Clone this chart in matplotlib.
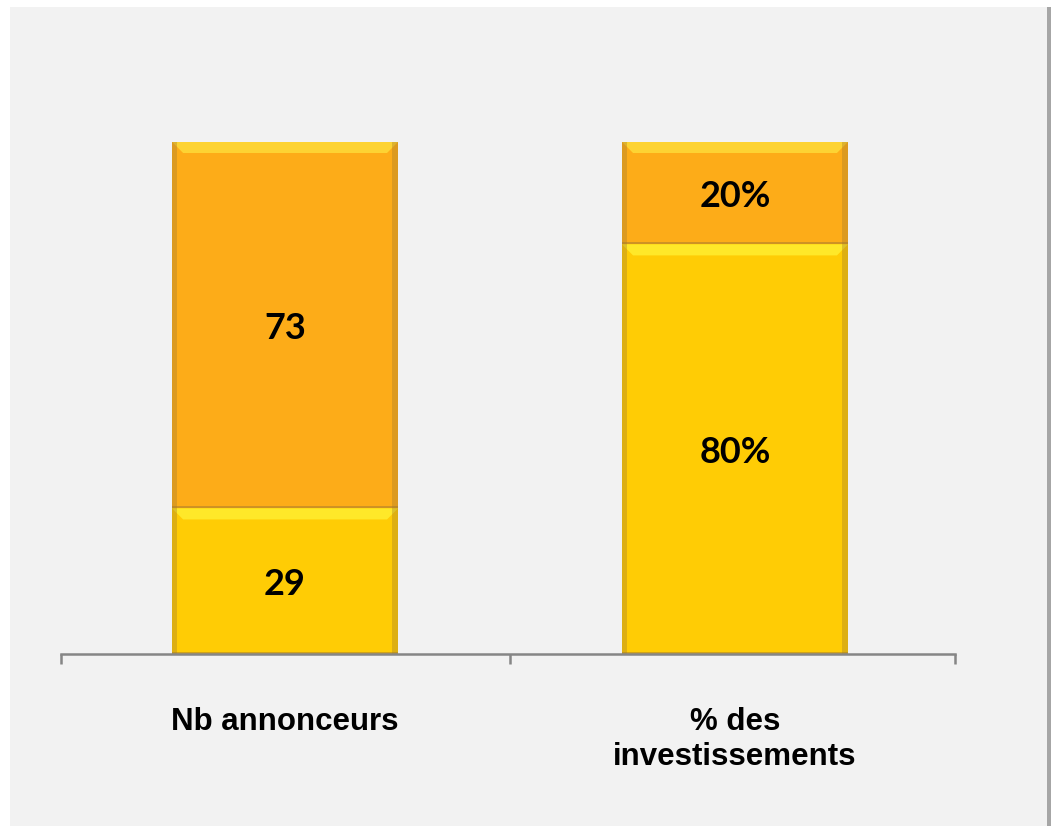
import matplotlib
matplotlib.use("Agg")
import matplotlib.pyplot as plt
from matplotlib.patches import Rectangle, Polygon
import numpy as np

categories = ["Nb annonceurs", "% des\ninvestissements"]
bottom_values = [29, 80]   # yellow series
top_values = [73, 20]      # orange series
bottom_labels = ["29", "80%"]
top_labels = ["73", "20%"]

YELLOW = "#ffcc05"
ORANGE = "#fdac18"
YELLOW_HI = "#fff033"
ORANGE_HI = "#fedd3a"

fig = plt.figure(figsize=(10.53, 8.26), dpi=100)
fig.patch.set_facecolor("white")
# panel background with shadow
fig.patches.append(Rectangle((1047/1053, 0), 4/1053, 819/826, transform=fig.transFigure,
                             facecolor="#a6a6a6", edgecolor="none", zorder=-10))
fig.patches.append(Rectangle((10/1053, 0), 1037/1053, 819/826, transform=fig.transFigure,
                             facecolor="#f2f2f2", edgecolor="none", zorder=-10))

ax = fig.add_axes([61/1053, (826-654)/826, (955-61)/1053, (654-142)/826])
ax.set_facecolor("none")
ax.set_zorder(5)

x = np.arange(len(categories))
tot = np.array(bottom_values, float) + np.array(top_values, float)
b = np.array(bottom_values) / tot
t = np.array(top_values) / tot
width = 0.502

bars_b = ax.bar(x, b, width, color=YELLOW, edgecolor="none", zorder=2)
bars_t = ax.bar(x, t, width, bottom=b, color=ORANGE, edgecolor="none", zorder=2)

xl = (-0.498, 1.489)
ax.set_xlim(*xl)
ax.set_ylim(0, 1)

# bevel effects derived from the bar patches
px_x = (xl[1] - xl[0]) / (955 - 61)   # data units per pixel in x
px_y = 1.0 / (654 - 142)              # data units per pixel in y
for bars, hi in ((bars_b, YELLOW_HI), (bars_t, ORANGE_HI)):
    for p in bars.patches:
        x0, y0, w, h = p.get_x(), p.get_y(), p.get_width(), p.get_height()
        x1, y1 = x0 + w, y0 + h
        d = 11
        poly = Polygon([(x0, y1), (x1, y1), (x1 - d*px_x, y1 - d*px_y), (x0 + d*px_x, y1 - d*px_y)],
                       closed=True, facecolor=hi, edgecolor="none", alpha=0.8, zorder=3)
        ax.add_patch(poly)
        # side shading
        ax.add_patch(Rectangle((x0, y0), 5*px_x, h, facecolor="#a07a30", alpha=0.35,
                               edgecolor="none", zorder=3))
        ax.add_patch(Rectangle((x1 - 6*px_x, y0), 6*px_x, h, facecolor="#a07a30", alpha=0.35,
                               edgecolor="none", zorder=3))
        # bottom darker line
        ax.add_patch(Rectangle((x0, y0), w, 2*px_y, facecolor="#a07a30", alpha=0.5,
                               edgecolor="none", zorder=3))

for bars, labels in ((bars_b, bottom_labels), (bars_t, top_labels)):
    for p, lab in zip(bars.patches, labels):
        ax.annotate(lab, xy=(p.get_x() + p.get_width()/2, p.get_y() + p.get_height()/2),
                    xytext=(0, -14), textcoords="offset pixels",
                    ha="center", va="baseline", fontsize=26, fontweight="bold",
                    family=["Lato", "DejaVu Sans"], color="black", zorder=5)

for s in ("top", "right", "left"):
    ax.spines[s].set_visible(False)
ax.spines["bottom"].set_color("#868686")
ax.spines["bottom"].set_linewidth(1.8)
ax.spines["bottom"].set_zorder(4)
ax.set_yticks([])
ax.set_xticks([xl[0], 0.5, xl[1]])
ax.set_xticklabels([])
ax.tick_params(axis="x", direction="out", length=7, width=1.8, color="#868686")

for xi, cat in zip(x, categories):
    ax.annotate(cat, xy=(xi, 0), xycoords="data", xytext=(0, -53), textcoords="offset pixels",
                ha="center", va="top", fontsize=22.5, fontweight="bold",
                family=["Liberation Sans", "DejaVu Sans"], linespacing=1.22)

fig.savefig("out.png", dpi=100, facecolor=fig.get_facecolor())
